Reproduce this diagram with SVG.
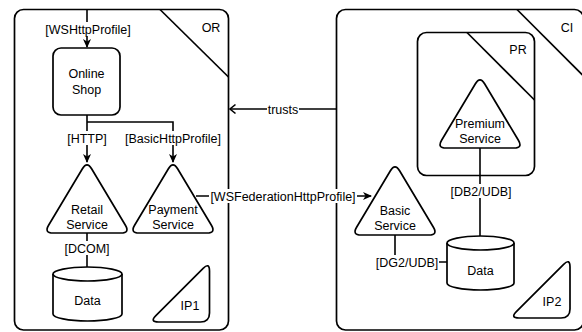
<svg xmlns="http://www.w3.org/2000/svg" width="582" height="332" viewBox="0 0 582 332">
<style>
.s{fill:#fff;stroke:#000;stroke-width:1.7}
.n{fill:none;stroke:#000;stroke-width:1.7}
.c{fill:none;stroke:#000;stroke-width:1.6}
.t{font-family:"Liberation Sans",Arial,sans-serif;font-size:12.5px;fill:#000;text-anchor:middle}
.lb{fill:#fff;stroke:none}
</style>
<defs>
<marker id="arr" markerUnits="userSpaceOnUse" markerWidth="10" markerHeight="10" viewBox="-9 -5 10 10" refX="0" refY="0" orient="auto">
<path d="M1,0 L-8,-4 L-5.5,0 L-8,4 Z" fill="#000"/>
</marker>
<marker id="open" markerUnits="userSpaceOnUse" markerWidth="10" markerHeight="12" viewBox="-7 -6 8 12" refX="0" refY="0" orient="auto">
<path d="M-5.5,-4.5 L0,0 L-5.5,4.5" fill="none" stroke="#000" stroke-width="1.6"/>
</marker>
<path id="tri" d="M-4.6,7.7 Q0,0 4.6,7.7 L38.4,64.3 Q43,72 34,72 L-34,72 Q-43,72 -38.4,64.3 Z"/>
<path id="ip" d="M-6.36,-53.64 Q0,-60 0,-51 L0,-9 Q0,0 -9,0 L-51,0 Q-60,0 -53.64,-6.36 Z"/>
</defs>

<g id="OR">
<rect class="s" x="14.5" y="9.5" width="214" height="320.5" rx="9"/>
<line class="n" x1="160" y1="9.5" x2="228.5" y2="77"/>
<text class="t" x="211" y="31.5">OR</text>
</g>
<g id="CI">
<rect class="s" x="336.5" y="9.5" width="247" height="320.5" rx="9"/>
<line class="n" x1="517" y1="9.5" x2="583.5" y2="76"/>
<text class="t" x="567" y="31.5">CI</text>
</g>
<g id="PR">
<rect class="s" x="417.5" y="32.5" width="117" height="143" rx="9"/>
<line class="n" x1="467" y1="32.5" x2="534.5" y2="100"/>
<text class="t" x="518" y="53.5">PR</text>
</g>

<g id="connectors">
<line class="c" x1="87" y1="9.5" x2="87" y2="47" marker-end="url(#arr)"/>
<polyline class="c" points="87,115 87,162" marker-end="url(#arr)"/>
<polyline class="c" points="87,122 173,122 173,162" marker-end="url(#arr)"/>
<line class="c" x1="87" y1="233" x2="87" y2="267"/>
<line class="c" x1="480" y1="148" x2="480" y2="236"/>
<polyline class="c" points="395,235 395,262 447,262"/>
<line class="c" x1="336" y1="109" x2="230" y2="109" marker-end="url(#open)"/>
<line class="c" x1="196" y1="196" x2="371" y2="196" marker-end="url(#arr)"/>
<rect class="lb" x="45" y="22" width="86" height="14"/>
<text class="t" x="88" y="33.5">[WSHttpProfile]</text>
<rect class="lb" x="67" y="131" width="40" height="14"/>
<text class="t" x="87" y="142.5">[HTTP]</text>
<rect class="lb" x="122" y="131" width="102" height="14"/>
<text class="t" x="173" y="142.5">[BasicHttpProfile]</text>
<rect class="lb" x="267" y="102" width="32" height="14"/>
<text class="t" x="283" y="113.5">trusts</text>
<rect class="lb" x="209" y="189" width="148" height="14"/>
<text class="t" x="283" y="200.5">[WSFederationHttpProfile]</text>
<rect class="lb" x="63" y="241" width="48" height="14"/>
<text class="t" x="87" y="252.5">[DCOM]</text>
<rect class="lb" x="450" y="184" width="62" height="14"/>
<text class="t" x="481" y="195.5">[DB2/UDB]</text>
<rect class="lb" x="375" y="255" width="64" height="14"/>
<text class="t" x="407" y="266.5">[DG2/UDB]</text>
</g>

<g id="OnlineShop">
<rect class="s" x="53" y="48" width="67" height="67" rx="8"/>
<text class="t" x="86.5" y="77.5">Online</text>
<text class="t" x="86.5" y="93.5">Shop</text>
</g>
<g id="RetailService">
<use href="#tri" class="s" x="87" y="161"/>
<text class="t" x="87" y="213.5">Retail</text>
<text class="t" x="87" y="228.5">Service</text>
</g>
<g id="PaymentService">
<use href="#tri" class="s" x="173" y="161"/>
<text class="t" x="173" y="213.5">Payment</text>
<text class="t" x="173" y="228.5">Service</text>
</g>
<g id="BasicService">
<use href="#tri" class="s" x="395" y="163"/>
<text class="t" x="395" y="214.5">Basic</text>
<text class="t" x="395" y="229.5">Service</text>
</g>
<g id="PremiumService">
<use href="#tri" class="s" x="480" y="76"/>
<text class="t" x="480" y="127.5">Premium</text>
<text class="t" x="480" y="142.5">Service</text>
</g>
<g id="DataOR">
<path class="s" d="M53,274 A34.5,7 0 0 1 122,274 L122,314 A34.5,7 0 0 1 53,314 Z"/>
<path class="n" d="M53,274 A34.5,7 0 0 0 122,274"/>
<text class="t" x="87.5" y="304.5">Data</text>
</g>
<g id="DataCI">
<path class="s" d="M447,243 A33.5,7 0 0 1 514,243 L514,283 A33.5,7 0 0 1 447,283 Z"/>
<path class="n" d="M447,243 A33.5,7 0 0 0 514,243"/>
<text class="t" x="480.5" y="274.5">Data</text>
</g>
<g id="IP1">
<use href="#ip" class="s" x="209.5" y="322"/>
<text class="t" x="190" y="309.5">IP1</text>
</g>
<g id="IP2">
<use href="#ip" class="s" x="570" y="318"/>
<text class="t" x="552" y="305.5">IP2</text>
</g>
</svg>
